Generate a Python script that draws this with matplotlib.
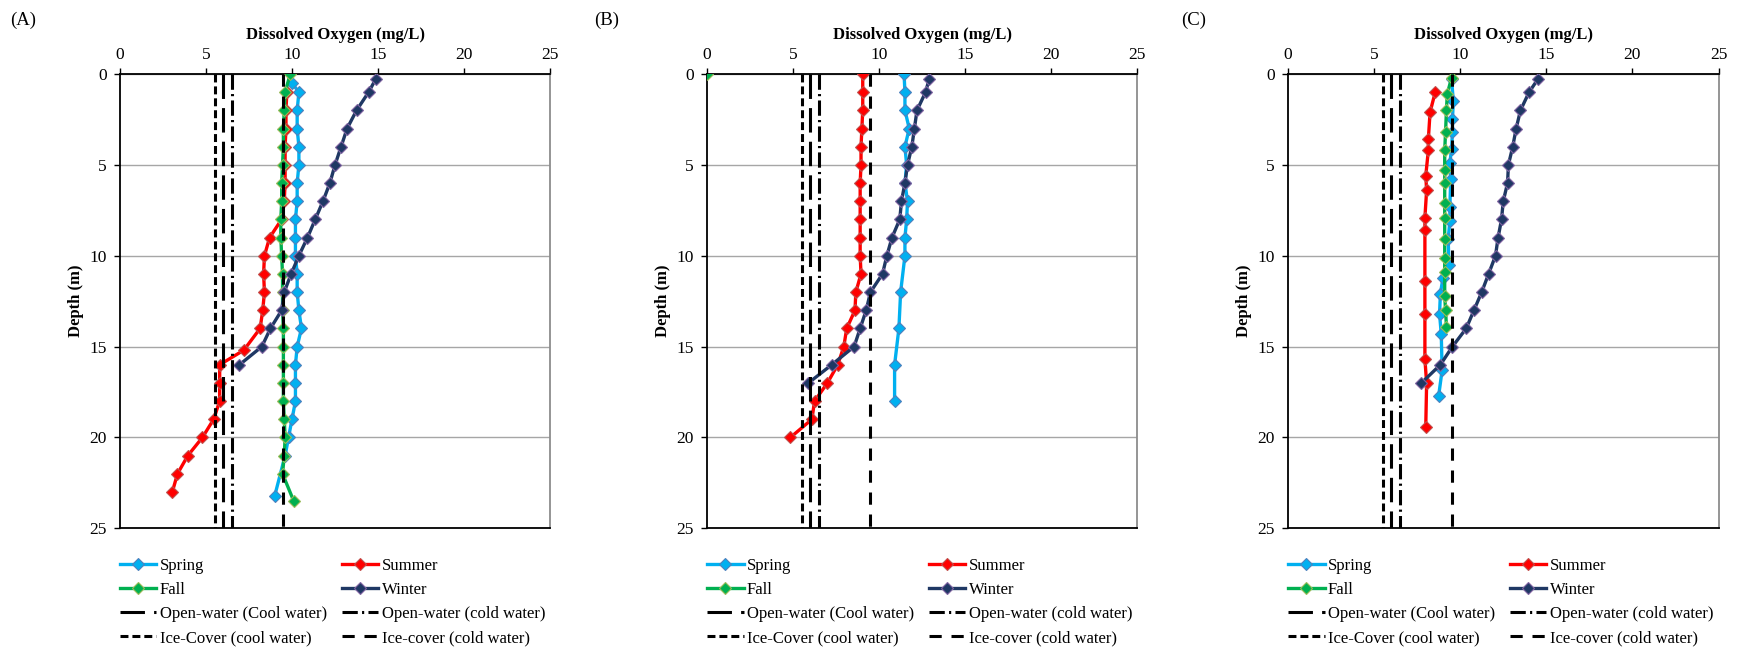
import matplotlib
matplotlib.use("Agg")
import matplotlib.pyplot as plt
from matplotlib.lines import Line2D

plt.rcParams['font.family'] = ['Liberation Serif', 'DejaVu Serif']

# panel A
a_spring_depth = [0.5, 1, 2, 3, 4, 5, 6, 7, 8, 9, 10, 11, 12, 13, 14, 15, 16, 17, 18, 19, 20, 21, 23.2]
a_spring_do = [10.0, 10.4, 10.3, 10.3, 10.4, 10.4, 10.3, 10.3, 10.2, 10.2, 10.2, 10.3, 10.3, 10.4, 10.55,
               10.3, 10.2, 10.2, 10.2, 10.0, 9.8, 9.6, 9.0]
a_summer_depth = [1, 2, 3, 4, 5, 6, 7, 8, 9, 10, 11, 12, 13, 14, 15.2, 16, 17, 18, 19, 20, 21, 22, 23]
a_summer_do = [9.7, 9.65, 9.65, 9.6, 9.6, 9.6, 9.55, 9.4, 8.7, 8.4, 8.35, 8.4, 8.3, 8.15, 7.2,
               5.8, 5.8, 5.8, 5.45, 4.8, 3.95, 3.35, 3.05]
a_fall_depth = [0, 1, 2, 3, 4, 5, 6, 7, 8, 9, 10, 11, 12, 13, 14, 15, 16, 17, 18, 19, 20, 21, 22, 23.5]
a_fall_do = [9.9, 9.6, 9.55, 9.5, 9.5, 9.45, 9.4, 9.4, 9.35, 9.35, 9.4, 9.45, 9.45, 9.45, 9.5,
             9.5, 9.5, 9.5, 9.5, 9.55, 9.6, 9.55, 9.45, 10.1]
a_winter_depth = [0.3, 1, 2, 3, 4, 5, 6, 7, 8, 9, 10, 11, 12, 13, 14, 15, 16]
a_winter_do = [14.85, 14.45, 13.75, 13.2, 12.85, 12.5, 12.2, 11.8, 11.35, 10.9, 10.4, 9.95, 9.55,
               9.4, 8.75, 8.25, 6.95]

# panel B
b_spring_depth = [0, 1, 2, 3, 4, 5, 6, 7, 8, 9, 10, 12, 14, 16, 18]
b_spring_do = [11.45, 11.5, 11.5, 11.75, 11.5, 11.6, 11.5, 11.65, 11.6, 11.5, 11.5, 11.25, 11.15, 10.9, 10.9]
b_summer_depth = [0, 1, 2, 3, 4, 5, 6, 7, 8, 9, 10, 11, 12, 13, 14, 15, 16, 17, 18, 19, 20]
b_summer_do = [9.05, 9.05, 9.05, 9.0, 8.95, 8.95, 8.9, 8.9, 8.9, 8.9, 8.9, 8.95, 8.65, 8.6, 8.12,
               7.95, 7.6, 7.0, 6.25, 6.1, 4.85]
b_fall_depth = [0]
b_fall_do = [0]
b_winter_depth = [0.3, 1, 2, 3, 4, 5, 6, 7, 8, 9, 10, 11, 12, 13, 14, 15, 16, 17]
b_winter_do = [12.9, 12.7, 12.2, 12.05, 11.9, 11.65, 11.5, 11.3, 11.2, 10.75, 10.45, 10.2, 9.5,
               9.25, 8.9, 8.55, 7.25, 5.9]

# panel C
c_spring_depth = [0.3, 1.5, 2.5, 3.2, 4.1, 4.9, 5.8, 7.3, 8.1, 9.1, 10.5, 11.2, 12.1, 13.2, 14.3, 16.3, 17.7]
c_spring_do = [9.5, 9.6, 9.55, 9.55, 9.5, 9.4, 9.45, 9.4, 9.4, 9.3, 9.35, 9.0, 8.85, 8.8, 8.9, 8.95, 8.75]
c_summer_depth = [1.0, 2.1, 3.6, 4.2, 5.6, 6.4, 7.9, 8.6, 11.4, 13.2, 15.7, 17.0, 19.4]
c_summer_do = [8.55, 8.25, 8.15, 8.15, 8.0, 8.05, 7.95, 7.95, 7.95, 7.95, 7.95, 8.05, 8.0]
c_fall_depth = [0.2, 1.1, 2.0, 3.2, 4.2, 5.3, 6.0, 7.1, 7.9, 9.1, 10.1, 10.9, 12.2, 13.0, 13.9]
c_fall_do = [9.5, 9.25, 9.2, 9.15, 9.1, 9.1, 9.1, 9.1, 9.1, 9.1, 9.1, 9.1, 9.1, 9.15, 9.2]
c_winter_depth = [0.3, 1, 2, 3, 4, 5, 6, 7, 8, 9, 10, 11, 12, 13, 14, 15, 16, 17]
c_winter_do = [14.5, 14.0, 13.5, 13.25, 13.05, 12.8, 12.75, 12.5, 12.4, 12.2, 12.05, 11.65, 11.25,
               10.8, 10.35, 9.55, 8.85, 7.75]

# DO criteria lines (mg/L)
criteria_names = ["Open-water (Cool water)", "Open-water (cold water)",
                  "Ice-Cover (cool water)", "Ice-cover (cold water)"]
criteria_values = [6.0, 6.5, 5.5, 9.5]
criteria_dashes = [(8, 3), (5, 1.4, 0.7, 1.4), (2.6, 1.3), (4, 3.2)]

seasons = ["Spring", "Summer", "Fall", "Winter"]
colors = ["#00B0F0", "#FF0000", "#00B050", "#1F3864"]
edges = ["#4F81BD", "#C0504D", "#9BBB59", "#8064A2"]

panels = [
    ("(A)", [(a_spring_depth, a_spring_do), (a_summer_depth, a_summer_do),
             (a_fall_depth, a_fall_do), (a_winter_depth, a_winter_do)]),
    ("(B)", [(b_spring_depth, b_spring_do), (b_summer_depth, b_summer_do),
             (b_fall_depth, b_fall_do), (b_winter_depth, b_winter_do)]),
    ("(C)", [(c_spring_depth, c_spring_do), (c_summer_depth, c_summer_do),
             (c_fall_depth, c_fall_do), (c_winter_depth, c_winter_do)]),
]

W, H = 1739, 651
fig = plt.figure(figsize=(W / 100, H / 100), dpi=100)

ax_left = [119.8, 706.9, 1288.0]
label_x = [10, 594, 1181]
ax_w = 430.5
ax_top, ax_bot = 74, 528.3

for i, (tag, series) in enumerate(panels):
    ax = fig.add_axes([ax_left[i] / W, 1 - ax_bot / H, ax_w / W, (ax_bot - ax_top) / H])

    handles = {}
    for name, c, e, (depth, do) in zip(seasons, colors, edges, series):
        ln, = ax.plot(do, depth, color=c, lw=2.4, marker="D", ms=5.8,
                      mfc=c, mec=e, mew=0.8, label=name, zorder=3)
        handles[name] = ln

    for name, v, d in zip(criteria_names, criteria_values, criteria_dashes):
        ax.plot([v, v], [0, 25], color="black", lw=2.2, dashes=d, zorder=4)
        handles[name] = Line2D([], [], color="black", lw=2.2, dashes=d)

    ax.set_xlim(0, 25)
    ax.set_ylim(25, 0)
    ax.set_xticks(range(0, 26, 5))
    ax.set_yticks(range(0, 26, 5))
    ax.xaxis.tick_top()
    ax.xaxis.set_label_position("top")
    ax.tick_params(axis="both", direction="out", length=4, width=1, labelsize=12.5)
    ax.tick_params(axis="x", pad=4)
    ax.tick_params(axis="y", pad=5.5)
    ax.grid(axis="y", color="#A6A6A6", lw=1)
    ax.set_axisbelow(True)
    for side in ["top", "left", "bottom"]:
        ax.spines[side].set_color("black")
        ax.spines[side].set_linewidth(1.3)
    ax.spines["right"].set_color("#8C8C8C")
    ax.spines["right"].set_linewidth(1.3)

    ax.set_xlabel("Dissolved Oxygen (mg/L)", fontsize=12, fontweight="bold", labelpad=6)
    ax.set_ylabel("Depth (m)", fontsize=12, fontweight="bold", labelpad=4)

    fig.text(label_x[i] / W, 1 - 20 / H, tag, fontsize=13.5, va="center", ha="left")

    order = ["Spring", "Fall", criteria_names[0], criteria_names[2],
             "Summer", "Winter", criteria_names[1], criteria_names[3]]
    ax.legend([handles[k] for k in order], order, ncol=2, frameon=False,
              loc="upper left", bbox_to_anchor=(ax_left[i] / W, 1 - 557.5 / H),
              bbox_transform=fig.transFigure, fontsize=12, handlelength=2.2,
              handletextpad=0.2, columnspacing=0.88, labelspacing=0.49,
              borderpad=0, borderaxespad=0)

fig.savefig("out.png", dpi=100)
